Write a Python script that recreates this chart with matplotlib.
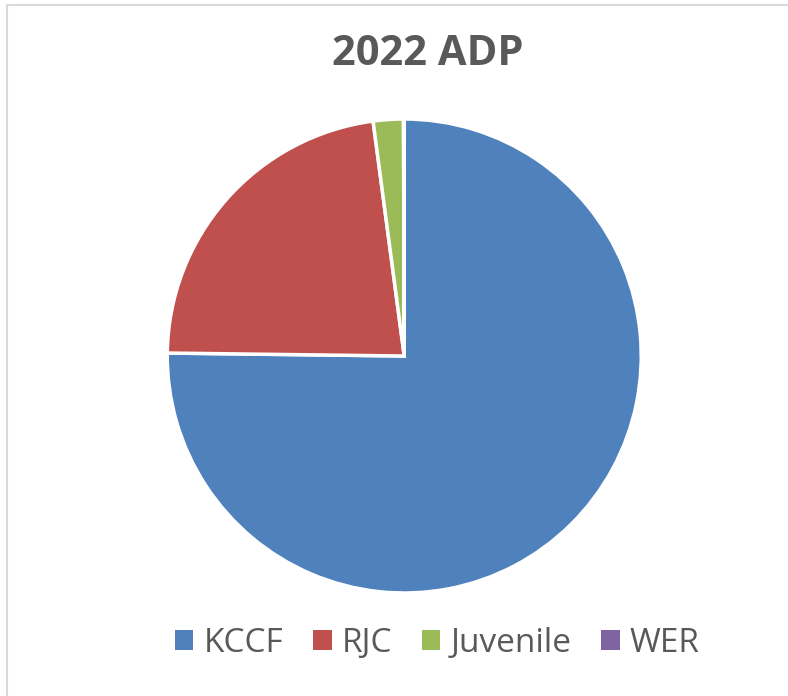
import matplotlib

matplotlib.use("Agg")

import matplotlib.pyplot as plt
from matplotlib.patches import Patch, Rectangle

labels = ["KCCF", "RJC", "Juvenile", "WER"]
shares = [75.2, 22.7, 2.05, 0.05]
colors = ["#4F81BD", "#C0504D", "#9BBB59", "#8064A2"]
title = "2022 ADP"

plt.rcParams["font.family"] = ["Open Sans", "DejaVu Sans"]

fig = plt.figure(figsize=(7.88, 6.96), dpi=100)
fig.patches.append(Rectangle((7 / 788, -0.1), 1.2, 1.1 - 5 / 696, transform=fig.transFigure,
                             fill=False, edgecolor="#d9d9d9", linewidth=1.5))

ax = fig.add_axes([0.212, 0.148, 0.602, 0.681])
ax.pie(shares, colors=colors, startangle=90, counterclock=False,
       wedgeprops={"edgecolor": "white", "linewidth": 2.5})
ax.set_xlim(-1.0, 1.0)
ax.set_ylim(-1.0, 1.0)
ax.set_aspect("equal")

fig.text(0.543, 0.922, title, ha="center", va="center", fontsize=30,
         fontweight="bold", color="#595959")

handles = [Patch(facecolor=c, edgecolor="none") for c in colors]
fig.legend(handles, labels, loc="center", bbox_to_anchor=(0.555, 0.076), ncol=4,
           frameon=False, fontsize=24, labelcolor="#595959",
           handlelength=0.55, handleheight=0.55, handletextpad=0.3, columnspacing=0.9)

fig.savefig("out.png", dpi=100)
